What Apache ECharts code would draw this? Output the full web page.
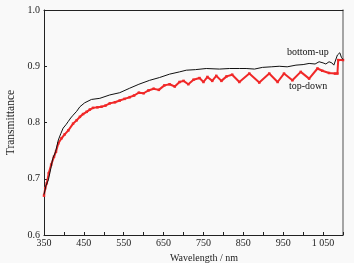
<!DOCTYPE html>
<html>
<head>
<meta charset="utf-8">
<script src="https://cdn.jsdelivr.net/npm/echarts@6/dist/echarts.min.js"></script>
<style>
  html, body { margin: 0; padding: 0; background: #f9f9f9; }
  #chart { width: 354px; height: 263px; }
</style>
</head>
<body>
<div id="chart"></div>
<script>
// bottom-up curve (nm, transmittance)
const bottomUpNm = [350, 355, 361, 367, 372, 379, 386, 392, 398, 405, 411, 417, 423, 432, 440, 452, 469, 490, 515, 540,
  565, 588, 615, 640, 665, 690, 707, 730, 757, 790, 815, 840, 857, 878, 898, 920, 940, 960, 982, 1000,
  1015, 1030, 1040, 1050, 1057, 1065, 1072, 1077, 1082, 1086, 1092, 1096, 1100];
const bottomUpT = [0.672, 0.688, 0.698, 0.718, 0.736, 0.748, 0.769, 0.780, 0.790, 0.796, 0.802, 0.808, 0.813, 0.820, 0.828, 0.835, 0.841, 0.843, 0.849, 0.853,
  0.861, 0.868, 0.875, 0.880, 0.886, 0.890, 0.893, 0.894, 0.896, 0.895, 0.896, 0.896, 0.896, 0.895, 0.898, 0.899, 0.900, 0.899, 0.902, 0.903,
  0.905, 0.904, 0.908, 0.906, 0.904, 0.908, 0.906, 0.902, 0.905, 0.920, 0.924, 0.916, 0.912];

// top-down curve
const topDownNm = [350, 353, 357, 362, 368, 375, 380, 386, 394, 402, 411, 423, 432, 440, 448, 457, 465, 473, 484, 494,
  504, 515, 528, 540, 552, 565, 576, 588, 600, 612, 625, 638, 652, 665, 678, 690, 700, 712, 725, 740,
  750, 760, 772, 782, 795, 808, 822, 840, 865, 890, 915, 936, 952, 973, 994, 1015, 1036, 1048, 1065, 1080,
  1086, 1088, 1100];
const topDownT = [0.670, 0.683, 0.692, 0.710, 0.725, 0.739, 0.748, 0.763, 0.772, 0.779, 0.786, 0.798, 0.804, 0.810, 0.815, 0.819, 0.823, 0.826, 0.827, 0.828,
  0.830, 0.834, 0.836, 0.839, 0.842, 0.845, 0.848, 0.853, 0.852, 0.857, 0.860, 0.858, 0.866, 0.868, 0.864, 0.872, 0.874, 0.868, 0.876, 0.879,
  0.872, 0.881, 0.874, 0.883, 0.874, 0.882, 0.885, 0.872, 0.887, 0.871, 0.887, 0.872, 0.887, 0.875, 0.890, 0.878, 0.896, 0.892, 0.888, 0.887,
  0.887, 0.911, 0.911];

const xLabels = [350, 450, 550, 650, 750, 850, 950, 1050];

const font = "'Liberation Serif', 'Times New Roman', serif";
const pair = (xs, ys) => xs.map((x, i) => [x, ys[i]]);

const chart = echarts.init(document.getElementById('chart'), null, { renderer: 'canvas' });
chart.setOption({
  backgroundColor: '#f9f9f9',
  animation: false,
  grid: { left: 44, right: 11, top: 10, bottom: 28, containLabel: false, outerBoundsMode: 'none' },
  xAxis: [{
    type: 'value', min: 350, max: 1100, interval: 50,
    name: 'Wavelength / nm', nameLocation: 'middle', nameGap: 10,
    nameTextStyle: { fontFamily: font, fontSize: 10, color: '#222', padding: [0, 0, 0, 21] },
    axisLine: { lineStyle: { color: '#222', width: 1 } },
    axisTick: { inside: true, length: 3, lineStyle: { color: '#222' } },
    axisLabel: {
      fontFamily: font, fontSize: 10, color: '#222', margin: 3,
      formatter: v => xLabels.includes(v) ? (v >= 1000 ? String(v).replace(/^(\d)/, '$1 ') : String(v)) : ''
    },
    splitLine: { show: false }
  }, {
    type: 'value', min: 350, max: 1100, position: 'top',
    axisLine: { show: true, onZero: false, lineStyle: { color: '#222', width: 1 } },
    axisTick: { show: false }, axisLabel: { show: false }, splitLine: { show: false }
  }],
  yAxis: [{
    type: 'value', min: 0.6, max: 1.0, interval: 0.1,
    name: 'Transmittance', nameLocation: 'middle', nameGap: 20,
    nameTextStyle: { fontFamily: font, fontSize: 11.5, color: '#222', padding: [0, 0, 0, 0] },
    axisLine: { show: true, lineStyle: { color: '#222', width: 1 } },
    axisTick: { show: true, inside: true, length: 3, lineStyle: { color: '#222' } },
    axisLabel: { fontFamily: font, fontSize: 10, color: '#222', margin: 4, formatter: v => v.toFixed(1) },
    splitLine: { show: false }
  }, {
    type: 'value', min: 0.6, max: 1.0, position: 'right',
    axisLine: { show: true, onZero: false, lineStyle: { color: '#888', width: 1.5 } },
    axisTick: { show: false }, axisLabel: { show: false }, splitLine: { show: false }
  }],
  series: [{
    name: 'bottom-up', type: 'line', data: pair(bottomUpNm, bottomUpT),
    showSymbol: false, lineStyle: { color: '#111', width: 1 }, z: 3
  }, {
    name: 'top-down', type: 'line', data: pair(topDownNm, topDownT),
    symbol: 'rect', symbolSize: 2.5, itemStyle: { color: '#f02828' },
    lineStyle: { color: '#f02828', width: 2 }, z: 2
  }],
  graphic: [
    { type: 'text', left: 287, top: 47, style: { text: 'bottom-up', font: '10px ' + font, fill: '#111' } },
    { type: 'text', left: 289, top: 81, style: { text: 'top-down', font: '10px ' + font, fill: '#111' } }
  ]
});
</script>
</body>
</html>
